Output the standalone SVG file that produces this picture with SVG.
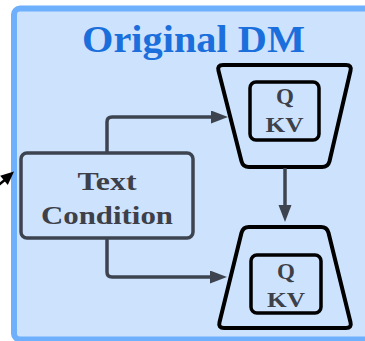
<svg xmlns="http://www.w3.org/2000/svg" width="365" height="341" viewBox="0 0 365 341">
<style>
.title{font-family:"Liberation Serif","Times New Roman",serif;font-weight:bold;fill:#1b6fdc}
.lbl{font-family:"Liberation Serif","Times New Roman",serif;font-weight:bold;fill:#3d4048;text-anchor:middle}
.trap{fill:none;stroke:#000;stroke-width:4;stroke-linejoin:round}
.inner{fill:none;stroke:#000;stroke-width:3.5}
.conn{fill:none;stroke:#3d4450;stroke-width:3.5}
</style>
<defs>
<marker id="ah" markerUnits="userSpaceOnUse" markerWidth="18" markerHeight="14" refX="1" refY="6.5" orient="auto">
<path d="M0,0 L17,6.5 L0,13 z" fill="#3d4450"/>
</marker>
</defs>
<g id="frame">
<rect x="14" y="8.5" width="362" height="331" rx="6" fill="#cde3fd" stroke="#6eb0fb" stroke-width="6"/>
<text class="title" x="82" y="52" font-size="37" textLength="223" lengthAdjust="spacingAndGlyphs">Original DM</text>
</g>
<g id="pointer">
<line x1="-10" y1="192" x2="6" y2="179" stroke="#000" stroke-width="2.5"/>
<polygon points="14,171.5 0.2,175.7 7.8,184.9" fill="#000"/>
</g>
<g id="text-condition">
<rect x="21" y="153" width="172" height="85" rx="6" fill="none" stroke="#3d4450" stroke-width="3.5"/>
<text class="lbl" x="107" y="190" font-size="26" textLength="59" lengthAdjust="spacingAndGlyphs">Text</text>
<text class="lbl" x="107" y="224" font-size="26" textLength="132" lengthAdjust="spacingAndGlyphs">Condition</text>
</g>
<g id="dm-top">
<path class="trap" d="M223,65 L346,65 Q352,65 350.5,70.8 L329.5,161.2 Q328,167 322,167 L249,167 Q243,167 241.5,161.2 L218.5,70.8 Q217,65 223,65 Z"/>
<rect class="inner" x="250" y="82" width="69" height="58" rx="6"/>
<text class="lbl" x="285" y="104" font-size="23">Q</text>
<text class="lbl" x="284.5" y="132" font-size="21" textLength="38" lengthAdjust="spacingAndGlyphs">KV</text>
</g>
<g id="dm-bottom">
<path class="trap" d="M249,227 L321,227 Q327,227 328.5,232.8 L350.5,322.2 Q352,328 346,328 L224,328 Q218,328 219.5,322.2 L241.5,232.8 Q243,227 249,227 Z"/>
<rect class="inner" x="251" y="255" width="70" height="58" rx="6"/>
<text class="lbl" x="286" y="279" font-size="23">Q</text>
<text class="lbl" x="286" y="307" font-size="21" textLength="38" lengthAdjust="spacingAndGlyphs">KV</text>
</g>
<g id="connectors">
<path class="conn" d="M107,153 L107,122 Q107,117 112,117 L212,117" marker-end="url(#ah)"/>
<path class="conn" d="M107,238 L107,272 Q107,277 112,277 L211,277" marker-end="url(#ah)"/>
<path class="conn" d="M285,168 L285,206" marker-end="url(#ah)"/>
</g>
</svg>
